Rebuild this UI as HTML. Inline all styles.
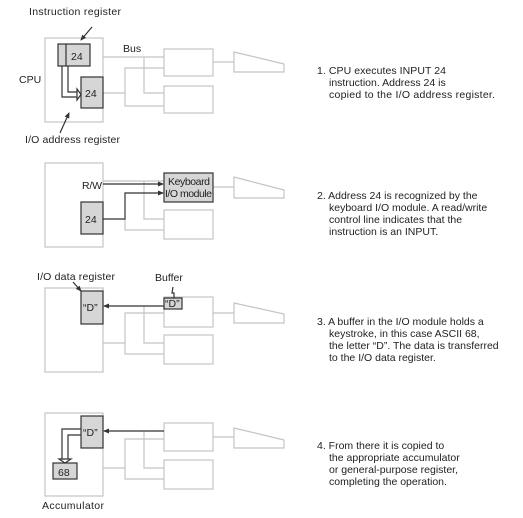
<!DOCTYPE html>
<html><head><style>
body{margin:0;background:#fff;width:523px;height:513px;overflow:hidden}
svg text{font-family:"Liberation Sans",sans-serif;font-size:10.5px;fill:#222}
</style></head><body>
<svg width="523" height="513" viewBox="0 0 523 513">
<defs>
<marker id="a" markerWidth="6" markerHeight="6" refX="5" refY="3" orient="auto" markerUnits="userSpaceOnUse"><path d="M0,0.5 L6,3 L0,5.5z" fill="#333"/></marker>
</defs>
<g fill="none" stroke="#c4c4c4" stroke-width="1.2">
<rect x="45" y="38" width="58" height="84"/>
<rect x="164" y="49" width="49" height="27"/><rect x="164" y="86" width="49" height="27"/>
<polyline points="103,57 164,57"/><polyline points="144,57 144,93 164,93"/>
<polyline points="103,93 125,93 125,68 164,68"/><polyline points="125,93 125,106 164,106"/>
<line x1="213" y1="62" x2="234" y2="62"/><polygon points="234,52 284,64 284,72 234,72"/>

<rect x="45" y="163" width="58" height="84"/>
<rect x="164" y="210" width="49" height="29"/>
<polyline points="103,181 164,181"/><polyline points="144,181 144,219 164,219"/>
<polyline points="125,219 125,230 164,230"/>
<line x1="213" y1="187" x2="234" y2="187"/><polygon points="234,177 284,190 284,198 234,198"/>

<rect x="45" y="288" width="58" height="84"/>
<rect x="164" y="297" width="49" height="30"/><rect x="164" y="335" width="49" height="29"/>
<polyline points="144,306 144,343 164,343"/>
<polyline points="103,343 125,343 125,313 164,313"/><polyline points="125,343 125,354 164,354"/>
<line x1="213" y1="313" x2="234" y2="313"/><polygon points="234,303 284,314 284,323 234,323"/>

<rect x="45" y="413" width="58" height="83"/>
<rect x="164" y="423" width="49" height="28"/><rect x="164" y="460" width="49" height="29"/>
<polyline points="144,431 144,468 164,468"/>
<polyline points="103,468 125,468 125,439 164,439"/><polyline points="125,468 125,479 164,479"/>
<line x1="213" y1="437" x2="234" y2="437"/><polygon points="234,428 284,440 284,448 234,448"/>
</g>
<g stroke="#333" stroke-width="1.2" fill="#d6d6d6">
<rect x="58" y="44" width="32" height="22"/><line x1="66" y1="44" x2="66" y2="66"/>
<rect x="81" y="77" width="22" height="31"/>
<rect x="164" y="173" width="49" height="29"/>
<rect x="81" y="202" width="22" height="32"/>
<rect x="81" y="291" width="22" height="33"/>
<rect x="164" y="298" width="18" height="11"/>
<rect x="81" y="416" width="22" height="32"/>
<rect x="53" y="463" width="24" height="16"/>
</g>
<g fill="none" stroke="#333" stroke-width="1.2">
<polyline points="62,66 62,97 78,97"/><polyline points="68,66 68,92 78,92"/>
<polygon points="77,89 81,94.5 77,100" fill="#fff"/>
<line x1="92" y1="27" x2="81" y2="40" marker-end="url(#a)"/>
<line x1="60" y1="133" x2="69" y2="113" marker-end="url(#a)"/>
<line x1="103" y1="184" x2="163" y2="184" marker-end="url(#a)"/>
<polyline points="103,219 125,219 125,193 163,193" marker-end="url(#a)"/>
<line x1="164" y1="306" x2="104" y2="306" marker-end="url(#a)"/>
<line x1="73" y1="282" x2="81" y2="291" marker-end="url(#a)"/>
<polyline points="173,287 172,293 174,293 174,298"/>
<line x1="164" y1="431" x2="104" y2="431" marker-end="url(#a)"/>
<polyline points="81,429 62,429 62,460"/><polyline points="81,435 68,435 68,460"/>
<polygon points="59,459 65,463 71,459" fill="#fff"/>
</g>
<text x="29" y="15" textLength="92">Instruction register</text>
<text x="123" y="52">Bus</text>
<text x="19" y="83">CPU</text>
<text x="25" y="143" textLength="95">I/O address register</text>
<text x="71" y="60" font-size="12">24</text>
<text x="85" y="97" font-size="12">24</text>
<text x="82" y="189" textLength="20">R/W</text>
<text x="168" y="185" font-size="9.5" textLength="42">Keyboard</text>
<text x="165" y="197" font-size="9.5" textLength="47">I/O module</text>
<text x="85" y="223" font-size="12">24</text>
<text x="37" y="280" textLength="78">I/O data register</text>
<text x="155" y="281">Buffer</text>
<text x="83" y="311">“D”</text>
<text x="165" y="307" font-size="9.5">“D”</text>
<text x="83" y="436">“D”</text>
<text x="58" y="476" font-size="11.5">68</text>
<text x="42" y="509" textLength="62">Accumulator</text>
<g>
<text x="317" y="74" textLength="129">1. CPU executes INPUT 24</text>
<text x="329" y="86">instruction. Address 24 is</text>
<text x="329" y="98" textLength="166">copied to the I/O address register.</text>
<text x="317" y="199">2. Address 24 is recognized by the</text>
<text x="329" y="211">keyboard I/O module. A read/write</text>
<text x="329" y="223">control line indicates that the</text>
<text x="329" y="235">instruction is an INPUT.</text>
<text x="317" y="325">3. A buffer in the I/O module holds a</text>
<text x="329" y="337">keystroke, in this case ASCII 68,</text>
<text x="329" y="349">the letter “D”. The data is transferred</text>
<text x="329" y="361">to the I/O data register.</text>
<text x="317" y="449">4. From there it is copied to</text>
<text x="329" y="461">the appropriate accumulator</text>
<text x="329" y="473">or general-purpose register,</text>
<text x="329" y="485">completing the operation.</text>
</g>
</svg>
</body></html>
